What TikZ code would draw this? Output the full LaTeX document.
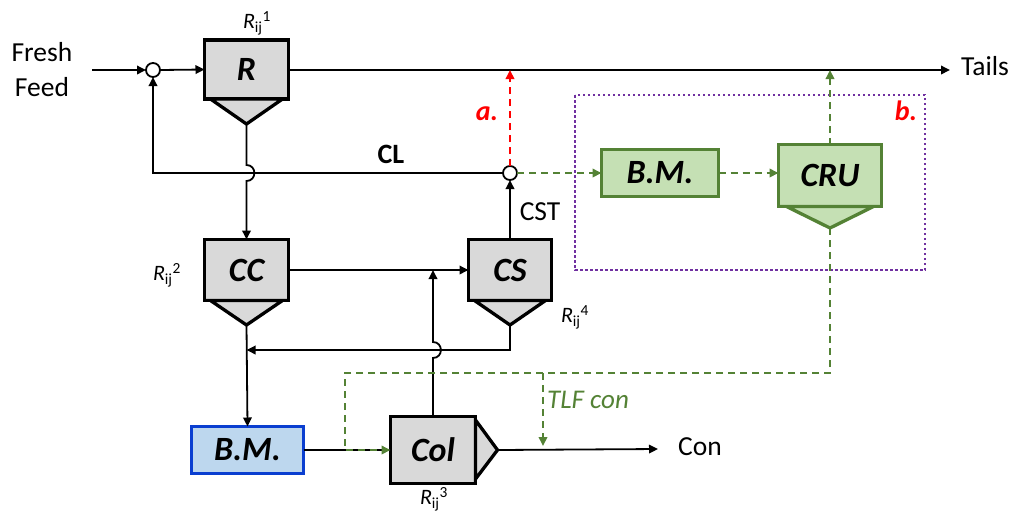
\documentclass[tikz,border=0pt]{standalone}
\usepackage{fontspec}
\setmainfont{Carlito}
\usetikzlibrary{arrows.meta,calc}
\definecolor{boxgray}{HTML}{D9D9D9}
\definecolor{gfill}{HTML}{C5E0B4}
\definecolor{gline}{HTML}{548235}
\definecolor{bfill}{HTML}{BDD7EE}
\definecolor{bline}{HTML}{0A3ED0}
\definecolor{purp}{HTML}{7030A0}
\begin{document}
\begin{tikzpicture}[x=1pt,y=-1pt,
  tip/.tip={Triangle[length=9pt,width=8.5pt]},
  unit/.style={draw=black,fill=boxgray,line width=3.3pt,inner sep=0pt,outer sep=0pt,
    font=\fontsize{34}{36}\selectfont\bfseries\itshape},
  unitri/.style={draw=black,fill=boxgray,line width=3.3pt,line join=miter},
  gunit/.style={unit,draw=gline,fill=gfill},
  gunitri/.style={unitri,draw=gline,fill=gfill},
  bunit/.style={unit,draw=bline,fill=bfill},
  mixer/.style={circle,draw=black,fill=white,line width=1.8pt,minimum size=14pt,inner sep=0pt,outer sep=0pt},
  conn/.style={draw=black,line width=1.8pt},
  arr/.style={conn,-tip},
  gdash/.style={draw=gline,line width=1.9pt,dash pattern=on 7pt off 5pt,-tip},
  rdash/.style={draw=red,line width=1.9pt,dash pattern=on 7pt off 5pt,-tip},
  lbl/.style={inner sep=0pt,font=\fontsize{27.5}{34}\selectfont},
  rlbl/.style={inner sep=0pt,font=\fontsize{22}{26}\selectfont},
]
\useasboundingbox (0,0) rectangle (1016,515);

% units
\node[unit,minimum width=84pt,minimum height=59pt] (R) at (246.5,69.5) {R};
\draw[unitri] ($(R.south west)+(6,0)$) -- ($(R.south)+(0,25)$) coordinate (Ra) -- ($(R.south east)+(-6,0)$) -- cycle;

\node[unit,minimum width=84pt,minimum height=61pt] (CC) at (246.5,270) {CC};
\draw[unitri] ($(CC.south west)+(6,0)$) -- ($(CC.south)+(0,24.5)$) coordinate (CCa) -- ($(CC.south east)+(-6,0)$) -- cycle;

\node[unit,minimum width=83pt,minimum height=61pt] (CS) at (510,270) {CS};
\draw[unitri] ($(CS.south west)+(6,0)$) -- ($(CS.south)+(0,24.5)$) coordinate (CSa) -- ($(CS.south east)+(-6,0)$) -- cycle;

\node[unit,minimum width=85pt,minimum height=67pt] (Col) at (433,450) {Col};
\draw[unitri] ($(Col.east)+(0,-30)$) -- ($(Col.east)+(22,0)$) coordinate (Cola) -- ($(Col.east)+(0,29)$) -- cycle;

\node[bunit,minimum width=112pt,minimum height=47pt] (BMb) at (247.5,450) {B.M.};
\node[gunit,minimum width=117pt,minimum height=47pt] (BMg) at (660,173) {B.M.};

\node[gunit,minimum width=103pt,minimum height=62pt] (CRU) at (830,175.5) {CRU};
\draw[gunitri] ($(CRU.south west)+(8,0)$) -- ($(CRU.south)+(0,21.5)$) coordinate (CRUa) -- ($(CRU.south east)+(-8,0)$) -- cycle;

% mixers
\node[mixer] (M1) at (153,70) {};
\node[mixer] (M2) at (510,173) {};

% free ends
\coordinate (FF) at (92,70);
\coordinate (TE) at (950,70);
\coordinate (ConE) at (658,449);
\coordinate (gc) at (345,373);
\coordinate (tb) at (543,373);
\coordinate (Bk) at ($(CSa)+(0,25)$);

% texts
\node[lbl,align=center,font=\fontsize{27.5}{35}\selectfont] (fresh) at (42,70) {Fresh\\Feed};
\node[lbl] (tails) at (985,66) {Tails};
\node[lbl] (con) at (700,447) {Con};
\node[lbl,font=\fontsize{28}{34}\selectfont\bfseries] (cl) at (391,154) {CL};
\node[lbl] (cst) at (540,212) {CST};
\node[lbl,text=red,font=\fontsize{28}{34}\selectfont\bfseries\itshape] (la) at (487,114) {a.};
\node[lbl,text=red,font=\fontsize{28}{34}\selectfont\bfseries\itshape] (lb) at (906,111) {b.};
\node[lbl,text=gline,font=\fontsize{27}{34}\selectfont\itshape,anchor=west] (tlf) at (547,400) {TLF con};
\node[rlbl] (r1) at (257,23) {\textit{R}\textsubscript{ij}\textsuperscript{1}};
\node[rlbl] (r2) at (167,275) {\textit{R}\textsubscript{ij}\textsuperscript{2}};
\node[rlbl] (r3) at (434,499) {\textit{R}\textsubscript{ij}\textsuperscript{3}};
\node[rlbl] (r4) at (575,317) {\textit{R}\textsubscript{ij}\textsuperscript{4}};

% purple region
\draw[purp,line width=2.5pt,dash pattern=on 2.5pt off 2.5pt] (575,95) rectangle (925,270);

% black connectors
\draw[arr] (FF) -- (M1.west);
\draw[arr] (M1.east) -- (R.west);
\draw[arr] (R.east |- M1) -- (TE);
\draw[arr] (M2.west) -- (M1 |- M2) -- (M1.south);
\draw[arr] (Ra) -- ($(Ra |- M2)+(0,-8)$) .. controls +(10.5,0) and +(10.5,0) .. ($(Ra |- M2)+(0,8)$) -- (CC.north);
\draw[arr] (CS.north) -- (M2.south);
\draw[arr] (CC.east) -- (CS.west);
\draw[arr] (Col.north) -- ($(Col.north |- Bk)+(0,8)$) .. controls +(10.5,0) and +(10.5,0) .. ($(Col.north |- Bk)+(0,-8)$) -- (Col.north |- CC.east);
\draw[arr] (CSa) -- (Bk) -- (Bk -| CCa);
\draw[arr] (CCa) -- (BMb.north);
\draw[conn] (BMb.east) -- (Col.west);
\draw[arr] (Cola) -- (ConE);

% dashed connectors
\draw[rdash] (M2.north) -- (M2 |- M1);
\draw[gdash] (M2.east) -- (BMg.west);
\draw[gdash] (BMg.east) -- (BMg.east -| CRU.west);
\draw[gdash] (CRU.north) -- (CRU.north |- M1);
\draw[gdash] (CRUa) -- (CRUa |- gc) -- (gc) -- (gc |- Col.west) -- (Col.west);
\draw[gdash] (tb) -- ($(tb |- Cola)+(0,-4)$);
\end{tikzpicture}
\end{document}
